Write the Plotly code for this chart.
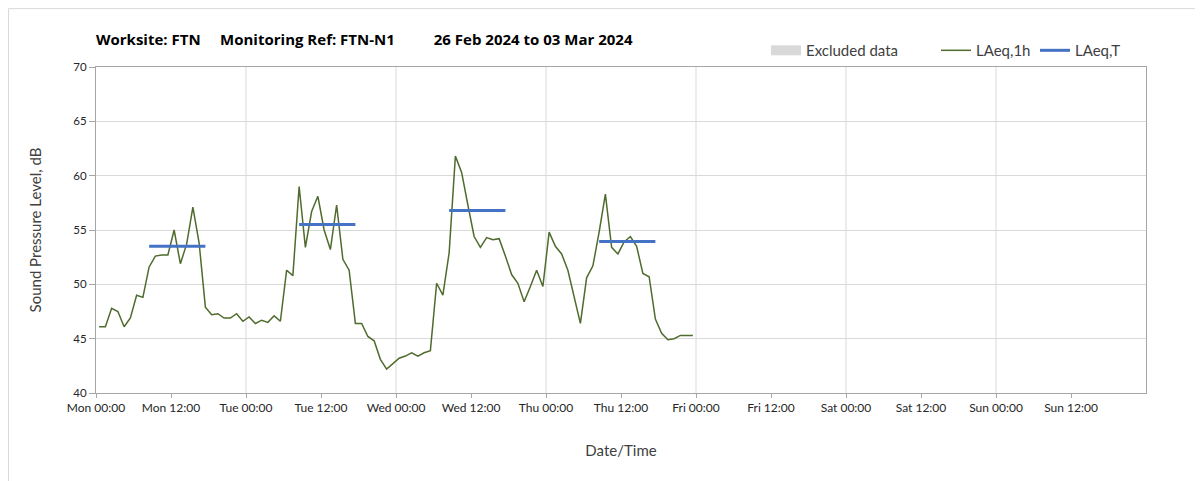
import pandas as pd
import plotly.graph_objects as go

# hourly LAeq,1h values, Mon 26 Feb 2024 00:00 -> Thu 29 Feb 23:00 (plotted mid-hour)
laeq_1h = [
    46.1, 46.1, 47.8, 47.5, 46.1, 46.9, 49.0, 48.8, 51.6, 52.6, 52.7, 52.7,
    55.0, 51.9, 53.7, 57.1, 53.8, 47.9, 47.2, 47.3, 46.9, 46.9, 47.3, 46.6,
    47.0, 46.4, 46.7, 46.5, 47.1, 46.6, 51.3, 50.8, 59.0, 53.4, 56.7, 58.1,
    55.0, 53.2, 57.3, 52.3, 51.3, 46.4, 46.4, 45.2, 44.8, 43.1, 42.2, 42.7,
    43.2, 43.4, 43.7, 43.4, 43.7, 43.9, 50.1, 49.0, 52.9, 61.8, 60.3, 57.3,
    54.4, 53.4, 54.3, 54.1, 54.2, 52.6, 50.9, 50.1, 48.4, 49.8, 51.3, 49.8,
    54.8, 53.5, 52.8, 51.3, 48.8, 46.4, 50.6, 51.7, 54.8, 58.3, 53.4, 52.8,
    53.9, 54.4, 53.5, 51.0, 50.7, 46.8, 45.5, 44.9, 45.0, 45.3, 45.3, 45.3,
]
hour_times = pd.date_range("2024-02-26 00:30", periods=len(laeq_1h), freq="h")

# daytime period LAeq,T (08:00-18:00 each weekday)
period_start = ["2024-02-26 08:30", "2024-02-27 08:30", "2024-02-28 08:30", "2024-02-29 08:30"]
period_end = ["2024-02-26 17:30", "2024-02-27 17:30", "2024-02-28 17:30", "2024-02-29 17:30"]
laeq_t = [53.5, 55.5, 56.8, 53.95]

# no excluded periods in this week
excluded_times = [None]
excluded_levels = [None]

tick_times = pd.date_range("2024-02-26 00:00", periods=14, freq="12h")
tick_labels = ["Mon 00:00", "Mon 12:00", "Tue 00:00", "Tue 12:00", "Wed 00:00", "Wed 12:00",
               "Thu 00:00", "Thu 12:00", "Fri 00:00", "Fri 12:00", "Sat 00:00", "Sat 12:00",
               "Sun 00:00", "Sun 12:00"]
day_lines = pd.date_range("2024-02-27", periods=6, freq="D")

tx, ty = [], []
for s, e, v in zip(period_start, period_end, laeq_t):
    tx += [pd.Timestamp(s), pd.Timestamp(e), None]
    ty += [v, v, None]

fig = go.Figure()
fig.add_trace(go.Scatter(x=excluded_times, y=excluded_levels, name="Excluded data", mode="lines",
                         line=dict(color="#d9d9d9", width=10), legend="legend"))
fig.add_trace(go.Scatter(x=hour_times, y=laeq_1h, name="LAeq,1h", mode="lines",
                         line=dict(color="#4f6b2d", width=1.5), legend="legend2"))
fig.add_trace(go.Scatter(x=tx, y=ty, name="LAeq,T", mode="lines",
                         line=dict(color="#4472c4", width=3), legend="legend3"))

for d in day_lines:
    fig.add_shape(type="line", xref="x", yref="paper", x0=d, x1=d, y0=0, y1=1,
                  line=dict(color="#d9d9d9", width=1), layer="below")

# outer chart border (left/top visible in the crop)
fig.add_shape(type="line", xref="paper", yref="paper", x0=-0.0833, x1=-0.0833, y0=-0.3, y1=1.179,
              line=dict(color="#d9d9d9", width=1))
fig.add_shape(type="line", xref="paper", yref="paper", x0=-0.0833, x1=1.06, y0=1.179, y1=1.179,
              line=dict(color="#d9d9d9", width=1))

nb = "\u00a0"
title = f"Worksite: FTN{nb*5}Monitoring Ref: FTN-N1{nb*10}26 Feb 2024 to 03 Mar 2024"
leg = dict(orientation="h", yref="container", y=0.91, yanchor="middle", xanchor="left",
           font=dict(size=15, color="#404040"), bgcolor="rgba(0,0,0,0)")

W, H = 1195, 473
fig.update_layout(
    width=W, height=H, showlegend=True,
    margin=dict(l=88, r=57, t=59, b=88, autoexpand=False),
    paper_bgcolor="white", plot_bgcolor="white",
    font=dict(family="Lato, Open Sans, sans-serif", color="#404040"),
    title=dict(text=f"<b>{title}</b>", x=88 / W, xanchor="left", y=0.932, yanchor="middle",
               font=dict(size=15, family="Open Sans", color="black")),
    legend=dict(leg, xref="container", x=758 / W),
    legend2=dict(leg, xref="container", x=928 / W),
    legend3=dict(leg, xref="container", x=1027 / W),
    xaxis=dict(type="date", range=["2024-02-26 00:00", "2024-03-04 00:00"], tickvals=tick_times,
               ticktext=tick_labels, showgrid=False, ticks="outside", ticklen=4,
               tickcolor="#a6a6a6", tickfont=dict(size=12, color="#262626"),
               showline=True, linecolor="#a6a6a6", linewidth=1, mirror=True, automargin=False,
               title=dict(text="Date/Time", font=dict(size=15, color="#404040"), standoff=31)),
    yaxis=dict(range=[40, 70], dtick=5, showgrid=True, gridcolor="#d9d9d9", gridwidth=1,
               ticks="outside", ticklen=6, tickcolor="#a6a6a6",
               tickfont=dict(size=11.5, color="#262626"), automargin=False,
               showline=True, linecolor="#a6a6a6", linewidth=1, mirror=True, zeroline=False,
               title=dict(text="Sound Pressure Level, dB", font=dict(size=15, color="#404040"),
                          standoff=28)),
)

fig.write_html("out.html")
